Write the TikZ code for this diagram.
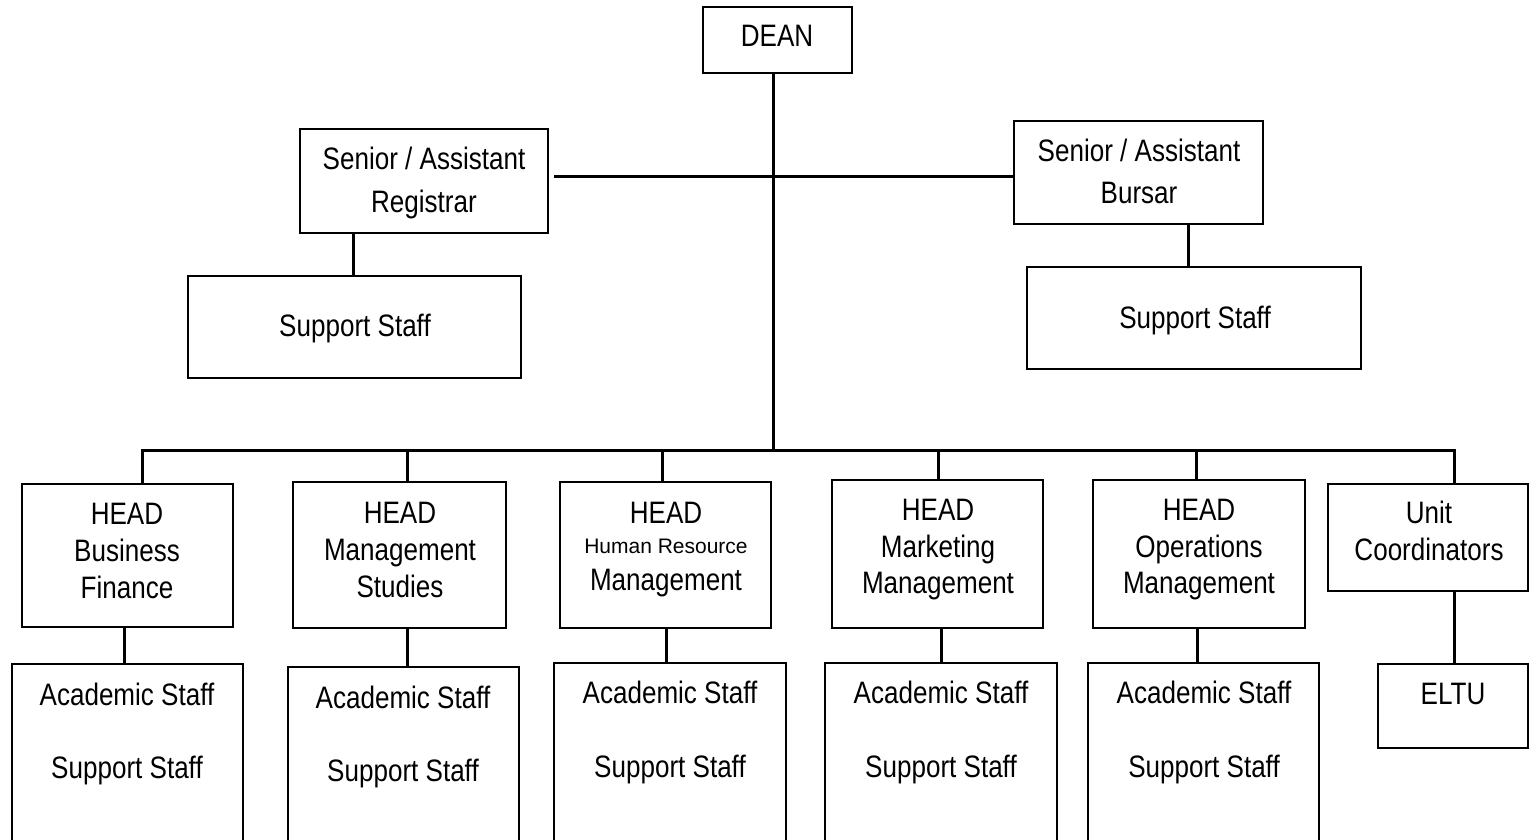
\documentclass[tikz,border=0pt]{standalone}
\usepackage{fontspec}
\setmainfont{Liberation Sans}[FakeStretch=0.84]
\newfontfamily\hrfont{Liberation Sans}
\begin{document}
\begin{tikzpicture}[x=1pt,y=-1pt,
  box/.style={draw=black,line width=2pt},
  conn/.style={draw=black,line width=3pt},
  txt/.style={anchor=base,inner sep=0pt,font=\fontsize{31}{37}\selectfont},
  txtsmall/.style={anchor=base,inner sep=0pt,font=\hrfont\fontsize{21}{24}\selectfont}]
\useasboundingbox (0,0) rectangle (1532,840);
\clip (0,0) rectangle (1532,840);
\fill[white] (0,0) rectangle (1532,840);

% boxes
\draw[box] (703,7) rectangle (852,73);
\coordinate (deanS) at (773,73);
\draw[box] (300,129) rectangle (548,233);
\coordinate (regE) at (548,177);
\coordinate (regS) at (353,233);
\draw[box] (188,276) rectangle (521,378);
\coordinate (supLN) at (353,276);
\draw[box] (1014,121) rectangle (1263,224);
\coordinate (burW) at (1014,177);
\coordinate (burS) at (1188,224);
\draw[box] (1027,267) rectangle (1361,369);
\coordinate (supRN) at (1188,267);

% texts top
\node[txt] (tdean) at (777,47) {DEAN};
\node[txt] (treg1) at (424,170) {Senior / Assistant};
\node[txt] (treg2) at (424,212) {Registrar};
\node[txt] (tsupL) at (355,336) {Support Staff};
\node[txt] (tbur1) at (1139,162) {Senior / Assistant};
\node[txt] (tbur2) at (1139,204) {Bursar};
\node[txt] (tsupR) at (1195,328) {Support Staff};

% head boxes
\draw[box] (22,484) rectangle (233,627);
\draw[box] (293,482) rectangle (506,628);
\draw[box] (560,482) rectangle (771,628);
\draw[box] (832,480) rectangle (1043,628);
\draw[box] (1093,480) rectangle (1305,628);
\draw[box] (1328,484) rectangle (1528,591);

\node[txt] (h1a) at (127,524) {HEAD};
\node[txt] (h1b) at (127,561) {Business};
\node[txt] (h1c) at (127,598) {Finance};
\node[txt] (h2a) at (400,523) {HEAD};
\node[txt] (h2b) at (400,560) {Management};
\node[txt] (h2c) at (400,597) {Studies};
\node[txt] (h3a) at (666,523) {HEAD};
\node[txtsmall] (h3b) at (666,553) {Human Resource};
\node[txt] (h3c) at (666,590) {Management};
\node[txt] (h4a) at (938,520) {HEAD};
\node[txt] (h4b) at (938,557) {Marketing};
\node[txt] (h4c) at (938,593) {Management};
\node[txt] (h5a) at (1199,520) {HEAD};
\node[txt] (h5b) at (1199,557) {Operations};
\node[txt] (h5c) at (1199,593) {Management};
\node[txt] (h6a) at (1429,523) {Unit};
\node[txt] (h6b) at (1429,560) {Coordinators};

% staff boxes
\draw[box] (12,664) rectangle (243,870);
\draw[box] (288,667) rectangle (519,870);
\draw[box] (554,663) rectangle (786,870);
\draw[box] (825,663) rectangle (1057,870);
\draw[box] (1088,663) rectangle (1319,870);
\draw[box] (1378,664) rectangle (1528,748);

\node[txt] (s1a) at (127,705) {Academic Staff};
\node[txt] (s1b) at (127,778) {Support Staff};
\node[txt] (s2a) at (403,708) {Academic Staff};
\node[txt] (s2b) at (403,781) {Support Staff};
\node[txt] (s3a) at (670,703) {Academic Staff};
\node[txt] (s3b) at (670,777) {Support Staff};
\node[txt] (s4a) at (941,703) {Academic Staff};
\node[txt] (s4b) at (941,777) {Support Staff};
\node[txt] (s5a) at (1204,703) {Academic Staff};
\node[txt] (s5b) at (1204,777) {Support Staff};
\node[txt] (s6a) at (1453,704) {ELTU};

% connectors top
\coordinate (busC) at (773,450);
\draw[conn] (deanS) -- (busC);
\draw[conn] ([xshift=6pt]regE) -- (burW);
\draw[conn] (regS) -- (supLN);
\draw[conn] (burS) -- (supRN);

% bus
\coordinate (b1) at (142,450);
\coordinate (b2) at (407,450);
\coordinate (b3) at (662,450);
\coordinate (b4) at (938,450);
\coordinate (b5) at (1196,450);
\coordinate (b6) at (1454,450);
\draw[conn,line cap=rect] (b1) -- (b6);
\draw[conn] (b1) -- (142,484);
\draw[conn] (b2) -- (407,482);
\draw[conn] (b3) -- (662,482);
\draw[conn] (b4) -- (938,480);
\draw[conn] (b5) -- (1196,480);
\draw[conn] (b6) -- (1454,484);

% head to staff
\draw[conn] (124,627) -- (124,664);
\draw[conn] (407,628) -- (407,667);
\draw[conn] (666,628) -- (666,663);
\draw[conn] (941,628) -- (941,663);
\draw[conn] (1197,628) -- (1197,663);
\draw[conn] (1454,591) -- (1454,664);
\end{tikzpicture}
\end{document}
